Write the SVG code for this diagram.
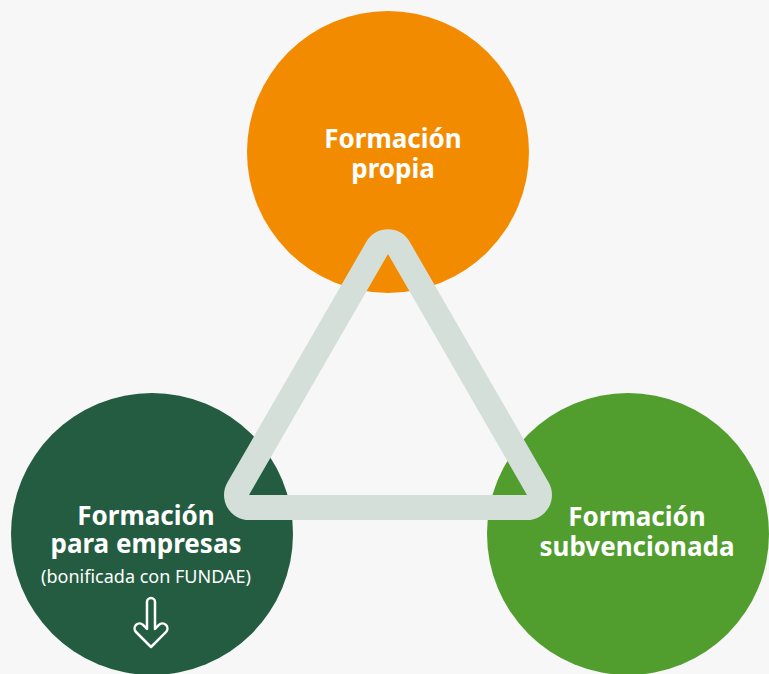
<svg xmlns="http://www.w3.org/2000/svg" width="769" height="674" viewBox="0 0 769 674">
  <style>
    .t { font-family: "Noto Sans", "Open Sans", "DejaVu Sans", sans-serif; fill: #ffffff; text-anchor: middle; }
    .b { font-weight: bold; font-size: 26px; }
    .s { font-size: 18px; }
  </style>
  <rect x="0" y="0" width="769" height="674" fill="#f7f7f7"/>
  <g id="node-propia">
    <circle cx="388" cy="152" r="141" fill="#f38b00"/>
    <text class="t b" x="393" y="148">Formación</text>
    <text class="t b" x="393" y="178">propia</text>
  </g>
  <g id="node-empresas">
    <circle cx="152" cy="534" r="141" fill="#235c41"/>
    <text class="t b" x="146" y="525">Formación</text>
    <text class="t b" x="146" y="553">para empresas</text>
    <text class="t s" x="146" y="583">(bonificada con FUNDAE)</text>
    <path d="M147 628.9 L147 602 A4 4 0 0 1 155 602 L155 628.9 L158.93 624.93 A5 5 0 0 1 166 632 L151 647 L136 632 A5 5 0 0 1 143.07 624.93 Z" fill="none" stroke="#ffffff" stroke-width="2.5" stroke-linejoin="round"/>
  </g>
  <g id="node-subvencionada">
    <circle cx="628" cy="534" r="141" fill="#519e2f"/>
    <text class="t b" x="637" y="526">Formación</text>
    <text class="t b" x="637" y="556">subvencionada</text>
  </g>
  <g id="connectors">
    <path fill="#d4dfd9" fill-rule="evenodd" d="M366.35 241.75 A25 25 0 0 1 409.65 241.75 L548.65 482.5 A25 25 0 0 1 527 520 L249 520 A25 25 0 0 1 227.35 482.5 Z M388 254 L527 495 L249 495 Z"/>
  </g>
</svg>
